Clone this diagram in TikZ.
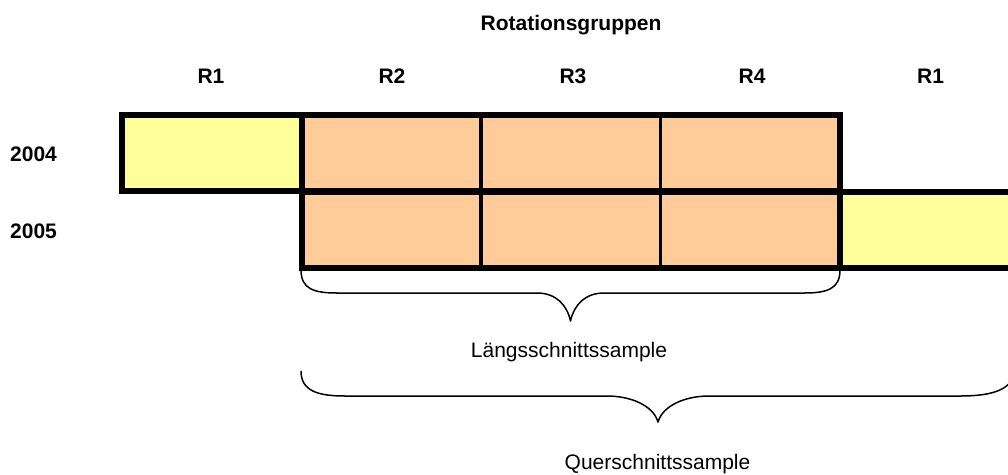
\documentclass[tikz,border=0pt]{standalone}
\usepackage{fontspec}
\setmainfont{Liberation Sans}
\definecolor{lyellow}{HTML}{FFFF99}
\definecolor{lpeach}{HTML}{FFCC99}
\tikzset{
  cell/.style={draw=black, line width=3.5pt, inner sep=0pt, outer sep=0pt,
    minimum height=76.5pt},
  ycell/.style={cell, fill=lyellow},
  pcell/.style={cell, fill=lpeach},
  thick outline/.style={line width=6pt, line cap=rect},
  hdr/.style={font=\fontsize{21}{25}\selectfont\bfseries, anchor=base, inner sep=0pt},
  lbl/.style={font=\fontsize{21}{25}\selectfont, anchor=base, inner sep=0pt},
  brace line/.style={line width=1.5pt, line join=round}
}
\begin{document}
\begin{tikzpicture}[x=1pt, y=-1pt]
\useasboundingbox (0,0) rectangle (1008,474);
\clip (0,0) rectangle (1008,474);
% cells row 2004
\node[ycell, minimum width=179.5pt] (c11) at (211.75,153) {};
\node[pcell, minimum width=179.5pt] (c12) at (391.25,153) {};
\node[pcell, minimum width=179.5pt] (c13) at (570.75,153) {};
\node[pcell, minimum width=179.5pt] (c14) at (750.25,153) {};
% cells row 2005
\node[pcell, minimum width=179.5pt] (c22) at (391.25,229.75) {};
\node[pcell, minimum width=179.5pt] (c23) at (570.75,229.75) {};
\node[pcell, minimum width=179.5pt] (c24) at (750.25,229.75) {};
\node[ycell, minimum width=190pt] (c25) at (935,229.75) {};
% thick outlines
\draw[thick outline] (c11.north west) rectangle (c14.south east);
\draw[thick outline] (c22.north west) rectangle (c25.south east);
\draw[thick outline] (c11.north east) -- (c11.south east);
\draw[thick outline] (c24.north east) -- (c24.south east);
% headers
\node[hdr] (title) at (571,30) {Rotationsgruppen};
\node[hdr] (r1a) at (211,83.5) {R1};
\node[hdr] (r2) at (392,83.5) {R2};
\node[hdr] (r3) at (573,83.5) {R3};
\node[hdr] (r4) at (752,83.5) {R4};
\node[hdr] (r1b) at (930.5,83.5) {R1};
\node[hdr, anchor=base west] (y2004) at (10,161.7) {2004};
\node[hdr, anchor=base west] (y2005) at (10,238.3) {2005};
% braces
\coordinate (b1l) at (301,270);
\coordinate (b1r) at (840,270);
\coordinate (b1t) at (570.5,321);
\draw[brace line] (b1l) .. controls (301,289) and (314,293) .. (337,293)
  -- (537,293) .. controls (556,293) and (567,305) .. (b1t)
  .. controls (574,305) and (585,293) .. (604,293)
  -- (804,293) .. controls (827,293) and (840,289) .. (b1r);
\coordinate (b2l) at (301,371);
\coordinate (b2r) at (1015,371);
\coordinate (b2t) at (658,422);
\draw[brace line] (b2l) .. controls (301,391) and (318,396) .. (345,396)
  -- (607,396) .. controls (630,396) and (653,405) .. (b2t)
  .. controls (663,405) and (686,396) .. (709,396)
  -- (960,396) .. controls (992,396) and (1012,390) .. (b2r);
\node[lbl] (laengs) at (569,357) {Längsschnittssample};
\node[lbl] (quer) at (657.5,469.5) {Querschnittssample};
\end{tikzpicture}
\end{document}
